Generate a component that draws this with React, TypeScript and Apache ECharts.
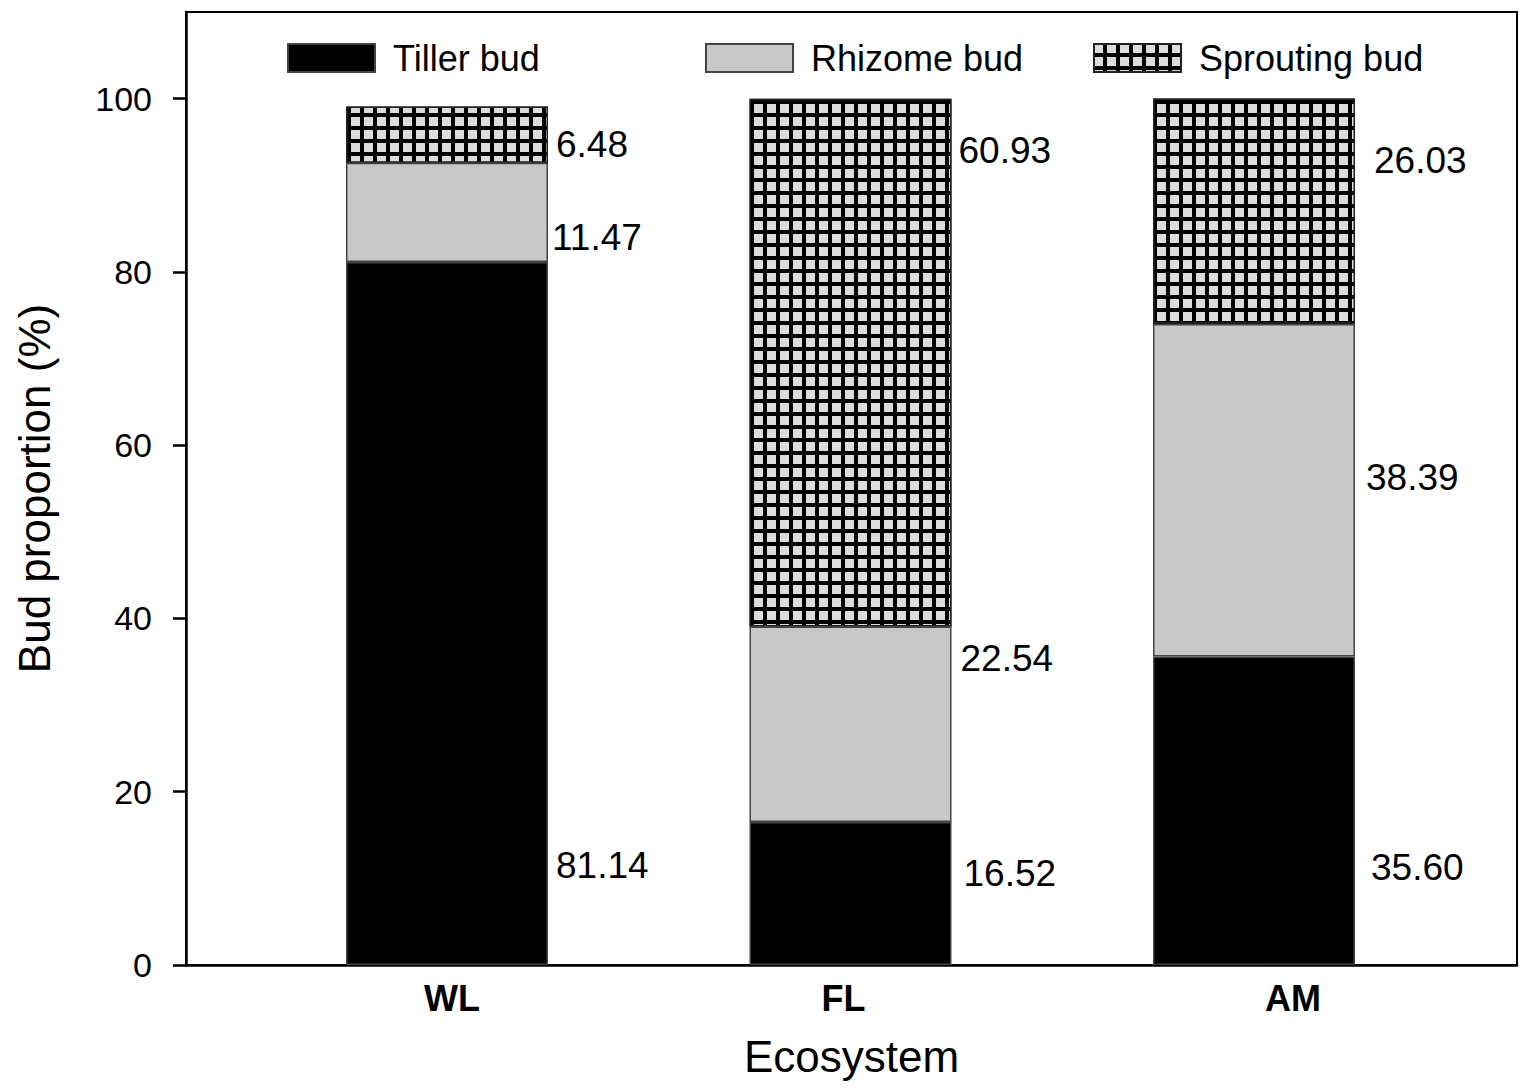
import React, { useEffect, useRef } from "react";
import * as echarts from "echarts";

const categories = ["WL", "FL", "AM"];
const tillerBud = [81.14, 16.52, 35.6];
const rhizomeBud = [11.47, 22.54, 38.39];
const sproutingBud = [6.48, 60.93, 26.03];
const yTickValues = [0, 20, 40, 60, 80, 100];
const seriesNames = ["Tiller bud", "Rhizome bud", "Sprouting bud"];

// label nudges (style only), per category [dx, dy]
const tillerLabelNudge = [[3, 252], [7, -20], [11, 57]];
const rhizomeLabelNudge = [[-1, 25], [4, -66], [6, -13]];
const sproutLabelNudge = [[3, 10], [2, -212], [14, -51]];

const FONT = "Liberation Sans, Arial, sans-serif";

function withLabels(values: number[], nudges: number[][]) {
  return values.map((v, i) => ({
    value: v,
    label: { offset: nudges[i] },
  }));
}

export default function App() {
  const ref = useRef<HTMLDivElement>(null);
  useEffect(() => {
    if (!ref.current) return;
    const chart = echarts.init(ref.current, null, { renderer: "svg" });
    const labelBase = {
      show: true,
      position: "right",
      distance: 5,
      color: "#000",
      fontSize: 37,
      fontFamily: FONT,
      formatter: (p: any) => Number(p.value).toFixed(2),
    };
    const border = { borderColor: "#444", borderWidth: 1.5 };
    const legendCommon = {
      orient: "horizontal",
      top: 40,
      padding: 0,
      itemWidth: 87,
      itemHeight: 28,
      icon: "rect",
      selectedMode: false,
      textStyle: {
        fontSize: 36,
        color: "#000",
        fontFamily: FONT,
        padding: [0, 0, 4, 13],
      },
    };
    chart.setOption({
      animation: false,
      backgroundColor: "#fff",
      grid: [
        {
          left: 186,
          top: 12,
          width: 1331,
          height: 953,
          show: true,
          borderColor: "#000",
          borderWidth: 2,
          backgroundColor: "transparent",
        },
        { left: 245.25, top: 12, width: 1210.5, height: 953 },
      ],
      legend: [
        { ...legendCommon, left: 287, data: [seriesNames[0]] },
        { ...legendCommon, left: 705, data: [seriesNames[1]] },
        { ...legendCommon, left: 1093, data: [seriesNames[2]] },
      ],
      xAxis: [
        {
          gridIndex: 0,
          type: "value",
          min: 0,
          max: 1,
          axisLine: { show: true, lineStyle: { color: "#000", width: 2.5 } },
          axisTick: { show: false },
          axisLabel: { show: false },
          splitLine: { show: false },
          name: "Ecosystem",
          nameLocation: "middle",
          nameGap: 69,
          nameTextStyle: { fontSize: 44, color: "#000", fontFamily: FONT },
        },
        {
          gridIndex: 1,
          type: "category",
          data: [
            { value: categories[0], textStyle: { padding: [0, 0, 0, 10] } },
            { value: categories[1], textStyle: { padding: [0, 14, 0, 0] } },
            { value: categories[2], textStyle: { padding: [0, 0, 8, 78] } },
          ],
          axisLine: { show: false },
          axisTick: { show: false },
          axisLabel: {
            margin: 15,
            fontSize: 36,
            fontWeight: "bold",
            color: "#000",
            fontFamily: FONT,
          },
        },
      ],
      yAxis: [
        {
          gridIndex: 0,
          type: "value",
          min: 0,
          max: 110,
          axisLine: { show: true, lineStyle: { color: "#000", width: 2.5 } },
          axisTick: {
            show: true,
            inside: false,
            length: 13,
            lineStyle: { color: "#000", width: 2.5 },
            customValues: yTickValues,
          },
          axisLabel: {
            margin: 34,
            fontSize: 34,
            color: "#000",
            fontFamily: FONT,
            customValues: yTickValues,
          },
          splitLine: { show: false },
          name: "Bud proportion (%)",
          nameLocation: "middle",
          nameGap: 130,
          nameTextStyle: { fontSize: 44, color: "#000", fontFamily: FONT },
        },
        {
          gridIndex: 1,
          type: "value",
          min: 0,
          max: 110,
          show: false,
        },
      ],
      series: [
        {
          name: seriesNames[0],
          type: "bar",
          stack: "total",
          xAxisIndex: 1,
          yAxisIndex: 1,
          barWidth: 202,
          itemStyle: { color: "#000", ...border },
          label: labelBase,
          data: withLabels(tillerBud, tillerLabelNudge),
        },
        {
          name: seriesNames[1],
          type: "bar",
          stack: "total",
          xAxisIndex: 1,
          yAxisIndex: 1,
          barWidth: 202,
          itemStyle: { color: "#c8c8c8", ...border },
          label: labelBase,
          data: withLabels(rhizomeBud, rhizomeLabelNudge),
        },
        {
          name: seriesNames[2],
          type: "bar",
          stack: "total",
          xAxisIndex: 1,
          yAxisIndex: 1,
          barWidth: 202,
          itemStyle: {
            color: "#000",
            ...border,
            borderColor: "#222",
            decal: {
              symbol: "rect",
              symbolSize: 1,
              color: "#dcdcdc",
              backgroundColor: "#000",
              dashArrayX: [8.5, 4],
              dashArrayY: [8.5, 4],
              rotation: 0,
            },
          },
          label: labelBase,
          data: withLabels(sproutingBud, sproutLabelNudge),
        },
      ],
    });
    return () => chart.dispose();
  }, []);
  return (
    <div
      ref={ref}
      style={{ position: "fixed", left: 0, top: 0, width: 1535, height: 1088, background: "#fff" }}
    />
  );
}
